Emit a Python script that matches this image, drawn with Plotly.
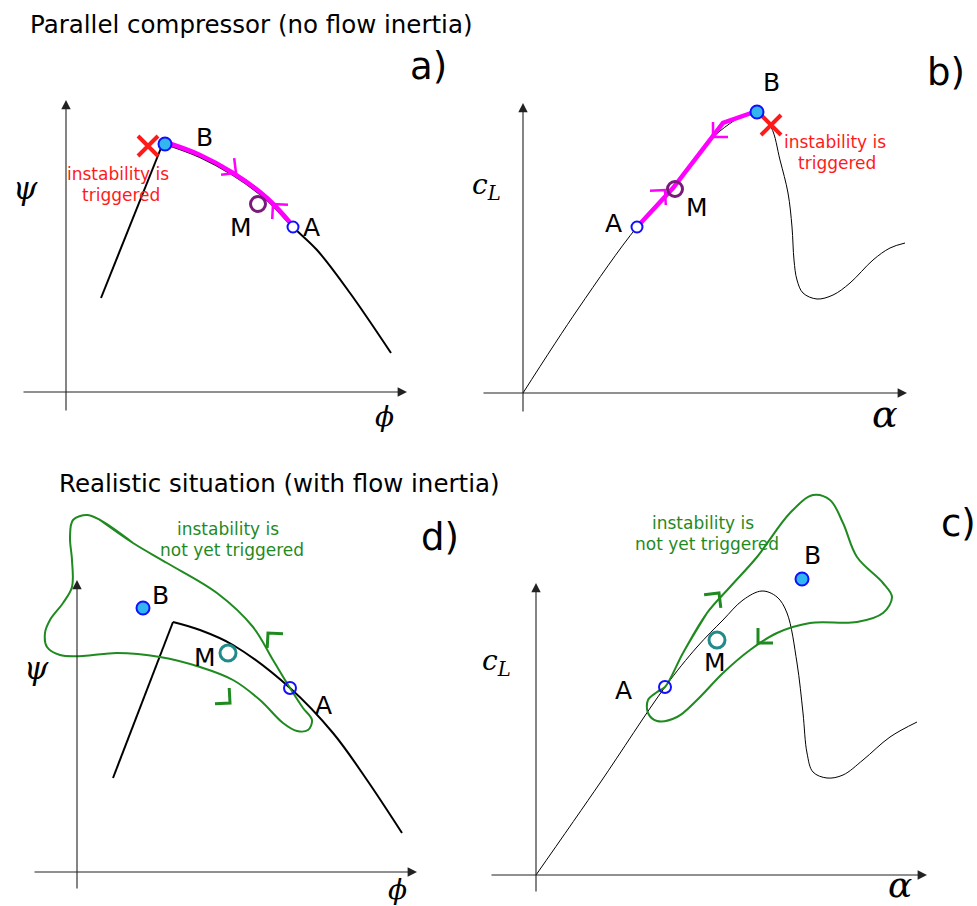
import math
import plotly.graph_objects as go

W, H = 977, 906

SANS = "DejaVu Sans"
SERIF = "DejaVu Serif"
MAGENTA = "#ff00ff"
RED = "#ff1a1a"
GREEN = "#1f8a1f"
BLUE = "#1010ff"
SKY = "#33b5f0"
PURPLE = "#7a1a7a"
TEAL = "#218a8a"

# ---------- panel a: compressor characteristic, no flow inertia ----------
a_axes = [((22, 392), (407, 392)), ((66, 412), (66, 100))]
a_left_x = [101, 161]
a_left_y = [298, 148]
a_char_x = [165, 200, 233, 267, 293, 317, 350, 391]
a_char_y = [144, 157, 175, 200, 227, 250, 293, 353]
a_path_x = [165, 200, 233, 267, 293]
a_path_y = [142, 155, 173, 198, 226]
a_chevrons = [(236, 173, 38), (273, 204, 228)]
a_A, a_B, a_M, a_X = (293, 227), (165, 144), (258, 204), (148, 146)

# ---------- panel b: lift curve, no flow inertia ----------
b_axes = [((482, 393), (907, 393)), ((523, 413), (523, 103))]
b_curve_x = [523, 578, 637, 673, 720, 757, 771, 780, 788, 792, 794, 797, 803,
             817, 833, 850, 873, 890, 905]
b_curve_y = [393, 309, 227, 188, 131, 112, 127, 160, 193, 227, 260, 280, 293,
             299, 295, 283, 260, 248, 243]
b_path_x = [637, 673, 723, 757]
b_path_y = [227, 188, 123, 111]
b_chevrons = [(665, 190, -48), (713, 137, 135)]
b_A, b_B, b_M, b_X = (637, 227), (757, 112), (675, 189), (771, 125)

# ---------- panel d: compressor characteristic, with flow inertia ----------
d_axes = [((33, 872), (417, 872)), ((77, 890), (77, 580))]
d_left_x = [113, 173]
d_left_y = [778, 622]
d_char_x = [173, 200, 233, 290, 333, 367, 402]
d_char_y = [622, 630, 645, 688, 733, 780, 833]
d_loop_x = [100, 133, 167, 217, 253, 273, 290, 303, 312, 308, 297, 283, 260, 233,
            200, 160, 117, 83, 60, 47, 45, 50, 63, 72, 72, 70, 73, 87, 100, 133]
d_loop_y = [520, 543, 563, 593, 627, 660, 688, 708, 720, 730, 731, 723, 700, 680,
            667, 657, 653, 656, 655, 647, 633, 620, 603, 587, 560, 537, 520, 515, 520, 543]
d_chevrons = [(268, 633, 228), (230, 703, 42)]
d_A, d_B, d_M = (290, 688), (143, 608), (228, 653)

# ---------- panel c: lift curve, with flow inertia ----------
c_axes = [((490, 875), (927, 875)), ((536, 893), (536, 583))]
c_curve_x = [536, 600, 665, 697, 723, 743, 762, 777, 787, 797, 803, 807, 813,
             827, 843, 863, 890, 917]
c_curve_y = [875, 783, 687, 647, 620, 600, 591, 597, 613, 663, 713, 753, 772,
             778, 775, 760, 737, 722]
c_loop_x = [683, 707, 730, 757, 790, 813, 830, 843, 857, 883, 892, 883, 857, 810,
            777, 750, 723, 697, 677, 657, 648, 648, 657, 665, 683, 707]
c_loop_y = [653, 613, 587, 557, 513, 495, 500, 523, 557, 583, 597, 613, 622, 623,
            633, 650, 673, 700, 717, 721, 713, 700, 692, 687, 653, 613]
c_chevrons = [(719, 593, -52), (758, 643, 135)]
c_A, c_B, c_M = (665, 687), (802, 579), (717, 640)

fig = go.Figure()


def line(xs, ys, color="black", width=2, shape="spline"):
    fig.add_trace(go.Scatter(x=xs, y=ys, mode="lines", hoverinfo="skip",
                             line=dict(color=color, width=width, shape=shape,
                                       smoothing=1.0)))


def chevron(tip, heading, color, width, length=15):
    tx, ty = tip
    xs, ys = [], []
    for turn in (45, -45):
        ang = math.radians(heading + turn)
        xs.append(tx - length * math.cos(ang))
        ys.append(ty - length * math.sin(ang))
    fig.add_trace(go.Scatter(x=[xs[0], tx, xs[1]], y=[ys[0], ty, ys[1]], mode="lines",
                             hoverinfo="skip",
                             line=dict(color=color, width=width)))


def point(p, size, fill, edge, ew=2):
    fig.add_trace(go.Scatter(x=[p[0]], y=[p[1]], mode="markers", hoverinfo="skip",
                             marker=dict(size=size, color=fill,
                                         line=dict(color=edge, width=ew))))


def cross(p):
    fig.add_trace(go.Scatter(x=[p[0]], y=[p[1]], mode="markers", hoverinfo="skip",
                             marker=dict(symbol="x-thin", size=20,
                                         line=dict(color=RED, width=4))))


def text(p, s, size, color="black", family=SANS):
    fig.add_annotation(x=p[0], y=p[1], xref="x", yref="y", text=s, showarrow=False,
                       font=dict(family=family, size=size, color=color),
                       xanchor="center", yanchor="middle")


def axis_arrows(axes):
    for tail, head in axes:
        fig.add_annotation(x=head[0], y=head[1], ax=tail[0], ay=tail[1],
                           xref="x", yref="y", axref="x", ayref="y", text="",
                           showarrow=True, arrowhead=2, arrowsize=1.7,
                           arrowwidth=1.1, arrowcolor="#222222", standoff=0)


# panel a
axis_arrows(a_axes)
line(a_left_x, a_left_y, shape="linear")
line(a_char_x, a_char_y)
line(a_path_x, a_path_y, color=MAGENTA, width=4.5)
for cx, cy, hd in a_chevrons:
    chevron((cx, cy), hd, MAGENTA, 2.5)
cross(a_X)
point(a_B, 13, SKY, BLUE)
point(a_A, 11, "white", BLUE)
point(a_M, 15, "rgba(0,0,0,0)", PURPLE, 3)

# panel b
axis_arrows(b_axes)
line(b_curve_x, b_curve_y, width=1)
line(b_path_x, b_path_y, color=MAGENTA, width=4.5, shape="linear")
for cx, cy, hd in b_chevrons:
    chevron((cx, cy), hd, MAGENTA, 2.5)
cross(b_X)
point(b_B, 13, SKY, BLUE)
point(b_A, 11, "white", BLUE)
point(b_M, 15, "rgba(0,0,0,0)", PURPLE, 3)

# panel d
axis_arrows(d_axes)
line(d_left_x, d_left_y, shape="linear")
line(d_char_x, d_char_y)
line(d_loop_x, d_loop_y, color=GREEN, width=2)
for cx, cy, hd in d_chevrons:
    chevron((cx, cy), hd, GREEN, 3)
point(d_B, 13, SKY, BLUE)
point(d_A, 12, "rgba(0,0,0,0)", BLUE)
point(d_M, 16, "rgba(0,0,0,0)", TEAL, 3)

# panel c
axis_arrows(c_axes)
line(c_curve_x, c_curve_y, width=1)
line(c_loop_x, c_loop_y, color=GREEN, width=2)
for cx, cy, hd in c_chevrons:
    chevron((cx, cy), hd, GREEN, 3)
point(c_B, 13, SKY, BLUE)
point(c_A, 12, "rgba(0,0,0,0)", BLUE)
point(c_M, 16, "rgba(0,0,0,0)", TEAL, 3)

# headings and panel letters
text((251, 24), "Parallel compressor (no flow inertia)", 24.5)
text((279, 483), "Realistic situation (with flow inertia)", 24.5)
text((428, 66), "a)", 37)
text((946, 72), "b)", 37)
text((440, 537), "d)", 37)
text((958, 523), "c)", 37)

# axis symbols
text((25, 188), "<i>ψ</i>", 31, family=SERIF)
text((384, 416), "<i>ϕ</i>", 28, family=SERIF)
text((486, 186), "<i>c<sub>L</sub></i>", 28, family=SERIF)
text((885, 414), "<i>α</i>", 38, family=SERIF)
text((36, 668), "<i>ψ</i>", 31, family=SERIF)
text((397, 889), "<i>ϕ</i>", 28, family=SERIF)
text((496, 662), "<i>c<sub>L</sub></i>", 28, family=SERIF)
text((900, 884), "<i>α</i>", 36, family=SERIF)

# point labels
text((204, 137), "B", 25)
text((311, 227), "A", 25)
text((241, 227), "M", 25)
text((771, 82), "B", 25)
text((613, 223), "A", 25)
text((697, 207), "M", 25)
text((160, 595), "B", 25)
text((205, 657), "M", 25)
text((323, 705), "A", 25)
text((812, 555), "B", 25)
text((715, 662), "M", 25)
text((623, 690), "A", 25)

# annotations on the state of the instability
text((118, 174), "instability is", 17, RED)
text((121, 195), "triggered", 17, RED)
text((835, 142), "instability is", 17, RED)
text((837, 163), "triggered", 17, RED)
text((228, 529), "instability is", 17, GREEN)
text((232, 550), "not yet triggered", 17, GREEN)
text((703, 523), "instability is", 17, GREEN)
text((707, 544), "not yet triggered", 17, GREEN)

fig.update_layout(
    width=W, height=H, margin=dict(l=0, r=0, t=0, b=0),
    paper_bgcolor="white", plot_bgcolor="white", showlegend=False,
    xaxis=dict(range=[0, W], visible=False, fixedrange=True),
    yaxis=dict(range=[H, 0], visible=False, fixedrange=True),
)

fig.write_html("out.html")
